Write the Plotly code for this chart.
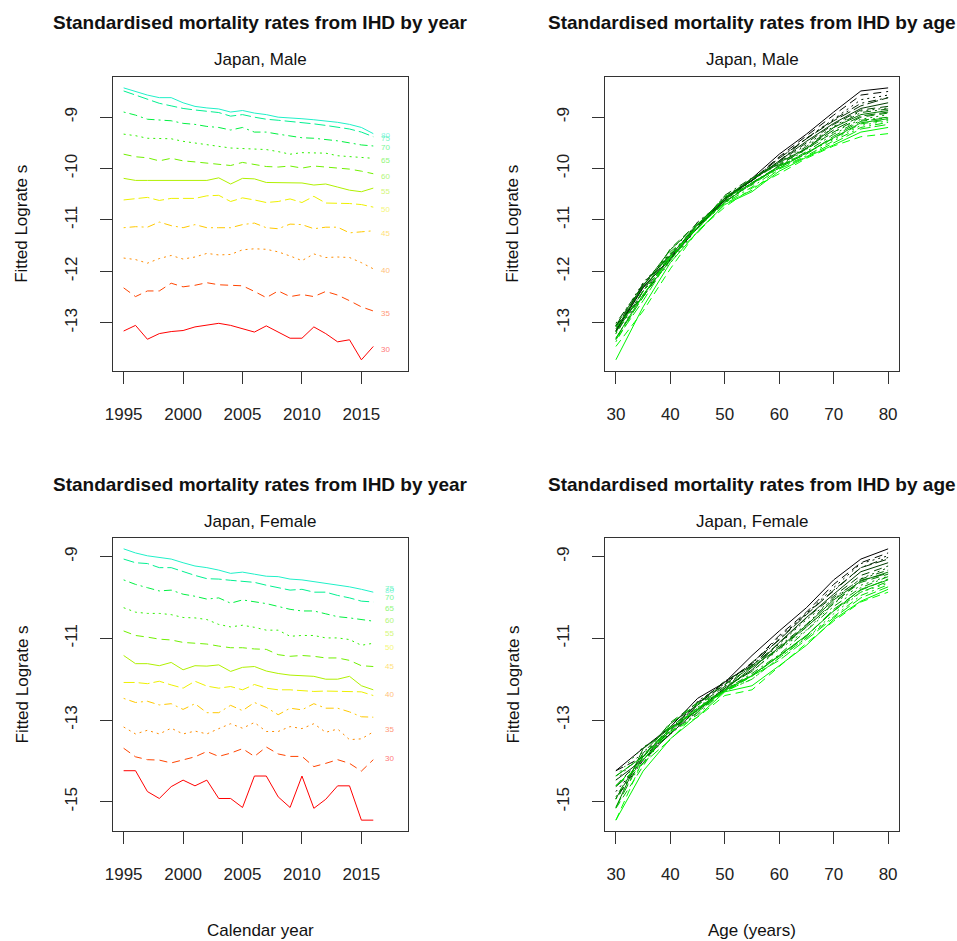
import plotly.graph_objects as go

years = list(range(1995, 2017))
ages = [30, 35, 40, 45, 50, 55, 60, 65, 70, 75, 80]

# Male fitted lograte series by age group, 1995-2016
male_30 = [-13.16, -13.05, -13.32, -13.21, -13.17, -13.15, -13.08, -13.05, -13.01, -13.05, -13.12, -13.18, -13.06, -13.18, -13.30, -13.30, -13.08, -13.21, -13.37, -13.33, -13.72, -13.46]
male_35 = [-12.32, -12.49, -12.38, -12.38, -12.23, -12.30, -12.27, -12.22, -12.26, -12.27, -12.28, -12.39, -12.51, -12.38, -12.49, -12.45, -12.49, -12.39, -12.46, -12.57, -12.69, -12.77]
male_40 = [-11.74, -11.77, -11.84, -11.75, -11.69, -11.76, -11.72, -11.65, -11.68, -11.67, -11.58, -11.56, -11.57, -11.62, -11.70, -11.79, -11.66, -11.73, -11.72, -11.73, -11.83, -11.95]
male_45 = [-11.15, -11.13, -11.14, -11.04, -11.11, -11.15, -11.09, -11.15, -11.15, -11.15, -11.09, -11.06, -11.15, -11.17, -11.08, -11.09, -11.17, -11.14, -11.14, -11.25, -11.23, -11.21]
male_50 = [-10.61, -10.59, -10.56, -10.62, -10.58, -10.58, -10.58, -10.53, -10.52, -10.64, -10.57, -10.61, -10.66, -10.64, -10.59, -10.66, -10.54, -10.67, -10.67, -10.68, -10.70, -10.75]
male_55 = [-10.19, -10.23, -10.23, -10.23, -10.23, -10.23, -10.23, -10.23, -10.18, -10.30, -10.19, -10.20, -10.27, -10.27, -10.28, -10.28, -10.32, -10.30, -10.36, -10.42, -10.45, -10.38]
male_60 = [-9.72, -9.77, -9.79, -9.85, -9.80, -9.85, -9.87, -9.89, -9.91, -9.94, -9.88, -9.92, -9.96, -9.97, -9.95, -9.99, -9.95, -9.97, -9.99, -10.01, -10.05, -10.10]
male_65 = [-9.33, -9.36, -9.41, -9.41, -9.42, -9.47, -9.50, -9.54, -9.57, -9.60, -9.61, -9.62, -9.63, -9.67, -9.72, -9.69, -9.69, -9.70, -9.75, -9.77, -9.78, -9.80]
male_70 = [-8.90, -8.96, -9.04, -9.05, -9.07, -9.12, -9.14, -9.18, -9.20, -9.25, -9.20, -9.29, -9.29, -9.33, -9.37, -9.40, -9.41, -9.43, -9.46, -9.50, -9.54, -9.56]
male_75 = [-8.49, -8.57, -8.66, -8.73, -8.78, -8.83, -8.86, -8.88, -8.91, -8.98, -8.95, -9.00, -9.04, -9.06, -9.08, -9.11, -9.13, -9.16, -9.20, -9.23, -9.29, -9.38]
male_80 = [-8.43, -8.50, -8.57, -8.62, -8.62, -8.72, -8.79, -8.82, -8.84, -8.90, -8.87, -8.92, -8.95, -9.00, -9.01, -9.03, -9.05, -9.07, -9.10, -9.14, -9.20, -9.32]

# Female fitted lograte series by age group, 1995-2016
female_30 = [-14.24, -14.24, -14.75, -14.92, -14.63, -14.47, -14.61, -14.47, -14.92, -14.92, -15.14, -14.37, -14.37, -14.88, -15.14, -14.37, -15.16, -14.94, -14.61, -14.61, -15.45, -15.45]
female_35 = [-13.69, -13.90, -13.97, -13.98, -14.05, -13.97, -13.90, -13.77, -13.89, -13.81, -13.70, -13.89, -13.66, -13.83, -13.89, -13.89, -14.14, -14.06, -13.97, -14.06, -14.25, -13.97]
female_40 = [-13.17, -13.34, -13.25, -13.34, -13.20, -13.34, -13.27, -13.34, -13.21, -13.09, -13.20, -13.06, -13.28, -13.28, -13.16, -13.21, -13.09, -13.30, -13.22, -13.48, -13.46, -13.29]
female_45 = [-12.47, -12.57, -12.54, -12.63, -12.60, -12.74, -12.60, -12.82, -12.82, -12.64, -12.77, -12.57, -12.69, -12.87, -12.71, -12.75, -12.60, -12.71, -12.71, -12.80, -12.92, -12.93]
female_50 = [-12.08, -12.08, -12.11, -12.05, -12.14, -12.22, -12.05, -12.17, -12.22, -12.18, -12.26, -12.13, -12.22, -12.26, -12.26, -12.28, -12.30, -12.29, -12.30, -12.30, -12.31, -12.40]
female_55 = [-11.42, -11.62, -11.62, -11.67, -11.59, -11.77, -11.67, -11.68, -11.65, -11.81, -11.71, -11.69, -11.80, -11.86, -11.90, -11.91, -11.93, -12.00, -12.00, -11.93, -12.16, -12.26]
female_60 = [-10.82, -10.93, -10.97, -11.02, -11.04, -11.10, -11.12, -11.14, -11.19, -11.23, -11.23, -11.26, -11.27, -11.40, -11.44, -11.42, -11.44, -11.48, -11.48, -11.54, -11.67, -11.69]
female_65 = [-10.25, -10.36, -10.39, -10.39, -10.42, -10.49, -10.50, -10.54, -10.66, -10.72, -10.68, -10.73, -10.80, -10.80, -10.95, -10.93, -10.93, -10.99, -10.99, -11.03, -11.17, -11.12]
female_70 = [-9.57, -9.68, -9.76, -9.84, -9.82, -9.92, -9.97, -10.04, -10.01, -10.14, -10.06, -10.11, -10.15, -10.22, -10.29, -10.33, -10.33, -10.40, -10.47, -10.50, -10.54, -10.58]
female_75 = [-9.06, -9.15, -9.17, -9.27, -9.27, -9.37, -9.46, -9.54, -9.55, -9.58, -9.60, -9.63, -9.70, -9.76, -9.82, -9.80, -9.87, -9.87, -9.95, -10.01, -10.09, -10.11]
female_80 = [-8.81, -8.91, -8.98, -9.02, -9.06, -9.15, -9.23, -9.27, -9.33, -9.41, -9.38, -9.43, -9.48, -9.49, -9.55, -9.57, -9.61, -9.65, -9.69, -9.74, -9.80, -9.87]

# Vertical positions of the age labels at the right of the by-year panels
male_label_y = [-13.51, -12.81, -11.98, -11.26, -10.80, -10.44, -10.15, -9.84, -9.59, -9.41, -9.36]
female_label_y = [-13.93, -13.22, -12.38, -11.69, -11.22, -10.87, -10.56, -10.27, -10.01, -9.78, -9.82]

male = [male_30, male_35, male_40, male_45, male_50, male_55,
        male_60, male_65, male_70, male_75, male_80]
female = [female_30, female_35, female_40, female_45, female_50, female_55,
          female_60, female_65, female_70, female_75, female_80]

# Age-group colours (red through yellow and green to turquoise)
age_colours = ["#FF0000", "#FF4500", "#FF8C00", "#FFC800", "#EEF000", "#B0F000",
               "#70F000", "#30F000", "#00F040", "#00F090", "#20F0C8"]
# R line types 1..5 recycled: solid, dashed, dotted, dotdash, longdash
dashes = ["solid", "8px,5px", "2px,4px", "2px,4px,8px,4px", "11px,4px"]

# Black-to-green ramp across calendar years
n_years = len(years)
year_colours = ["#00%02X00" % round(255 * j / (n_years - 1)) for j in range(n_years)]

FONT = "Liberation Sans, Arial, sans-serif"
W, H = 957, 941


def xdom(x0, x1):
    return [x0 / W, x1 / W]


def ydom(y0, y1):
    return [1 - y1 / H, 1 - y0 / H]


def padded(lo, hi):
    p = 0.04 * (hi - lo)
    return [lo - p, hi + p]


fig = go.Figure()

panels = [
    # (sex data, label y, label x, by-year axes, by-age axes)
    (male, male_label_y, 2017.05, "x", "y", "x2", "y2"),
    (female, female_label_y, 2017.4, "x3", "y3", "x4", "y4"),
]

for data, lab_y, lab_x, xa, ya, xb, yb in panels:
    # By-year panel: one line per age group
    for i, age in enumerate(ages):
        fig.add_trace(go.Scatter(
            x=years, y=data[i], mode="lines", xaxis=xa, yaxis=ya,
            line=dict(color=age_colours[i], width=1, dash=dashes[i % 5]),
            showlegend=False, hoverinfo="skip"))
        fig.add_annotation(
            x=lab_x, y=lab_y[i], xref=xa, yref=ya, text=str(age),
            showarrow=False, font=dict(family=FONT, size=8, color=age_colours[i]),
            opacity=0.55)
    # By-age panel: one line per calendar year
    for j, yr in enumerate(years):
        fig.add_trace(go.Scatter(
            x=ages, y=[series[j] for series in data], mode="lines",
            xaxis=xb, yaxis=yb,
            line=dict(color=year_colours[j], width=1, dash=dashes[j % 5]),
            showlegend=False, hoverinfo="skip"))

male_lo = min(min(s) for s in male)
male_hi = max(max(s) for s in male)
female_lo = min(min(s) for s in female)
female_hi = max(max(s) for s in female)

axis_common = dict(
    showline=True, mirror=True, linecolor="#333333", linewidth=1,
    ticks="outside", ticklen=12, tickwidth=1, tickcolor="#333333",
    showgrid=False, zeroline=False, automargin=False,
    tickfont=dict(family=FONT, size=17, color="#222222"),
)

xl = dict(axis_common, range=[1995 - 0.92, 2018 + 0.92], tickvals=[1995, 2000, 2005, 2010, 2015],
          ticklabelstandoff=16)
xr = dict(axis_common, range=[28, 82], tickvals=[30, 40, 50, 60, 70, 80], ticklabelstandoff=16)
ym = dict(axis_common, range=padded(male_lo, male_hi), tickvals=[-9, -10, -11, -12, -13],
          ticktext=["-9", "-10", "-11", "-12", "-13"], tickangle=-90, ticklabelstandoff=16)
yf = dict(axis_common, range=padded(female_lo, female_hi), tickvals=[-9, -11, -13, -15],
          ticktext=["-9", "-11", "-13", "-15"], tickangle=-90, ticklabelstandoff=16)

LX0, LX1 = 112.7, 408.0
RX0, RX1 = 605.0, 899.0
TY0, TY1 = 77.0, 370.7
BY0, BY1 = 538.0, 831.0

fig.update_layout(
    width=W, height=H,
    margin=dict(l=0, r=0, t=0, b=0, autoexpand=False),
    paper_bgcolor="white", plot_bgcolor="white",
    showlegend=False,
    xaxis=dict(xl, domain=xdom(LX0, LX1), anchor="y"),
    yaxis=dict(ym, domain=ydom(TY0, TY1), anchor="x"),
    xaxis2=dict(xr, domain=xdom(RX0, RX1), anchor="y2"),
    yaxis2=dict(ym, domain=ydom(TY0, TY1), anchor="x2"),
    xaxis3=dict(xl, domain=xdom(LX0, LX1), anchor="y3"),
    yaxis3=dict(yf, domain=ydom(BY0, BY1), anchor="x3"),
    xaxis4=dict(xr, domain=xdom(RX0, RX1), anchor="y4"),
    yaxis4=dict(yf, domain=ydom(BY0, BY1), anchor="x4"),
)


def text_at(px, py, txt, size, bold=False, angle=0):
    fig.add_annotation(
        x=px / W, y=1 - py / H, xref="paper", yref="paper",
        text=("<b>%s</b>" % txt) if bold else txt, showarrow=False,
        xanchor="center", yanchor="middle", textangle=angle,
        font=dict(family=FONT, size=size, color="#111111"))


for cx, by_what in [((LX0 + LX1) / 2, "year"), ((RX0 + RX1) / 2, "age")]:
    for top, sex in [(TY0, "Male"), (BY0, "Female")]:
        text_at(cx, top - 54, "Standardised mortality rates from IHD by " + by_what, 19, bold=True)
        text_at(cx, top - 17, "Japan, " + sex, 17)

for cx in [22, 513]:
    for y0, y1 in [(TY0, TY1), (BY0, BY1)]:
        text_at(cx, (y0 + y1) / 2, "Fitted Lograte s", 17, angle=-90)

text_at((LX0 + LX1) / 2, 930, "Calendar year", 17)
text_at((RX0 + RX1) / 2, 930, "Age (years)", 17)

fig.write_html("out.html")
